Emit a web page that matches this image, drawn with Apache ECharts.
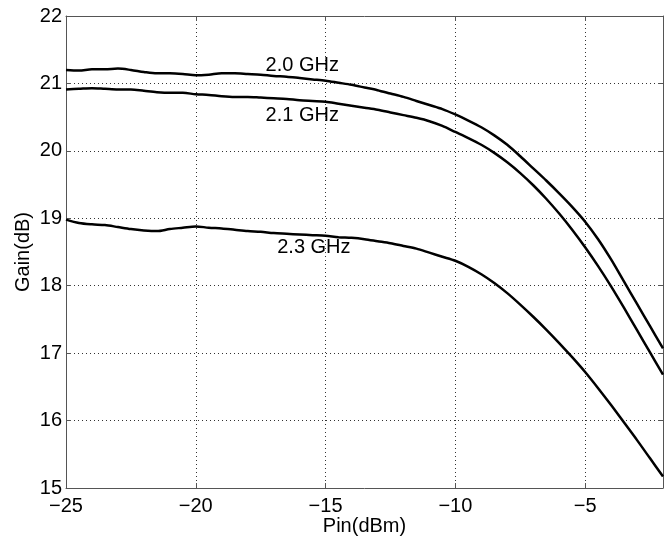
<!DOCTYPE html>
<html>
<head>
<meta charset="utf-8">
<script src="https://cdn.jsdelivr.net/npm/echarts@6/dist/echarts.min.js"></script>
<style>
	html, body {margin: 0; padding: 0; background: #fff;}
	#chart {width: 671px; height: 537px;}
</style>
</head>
<body>
<div id="chart"></div>
<script type="text/javascript">
// input power (dBm)
var pin = [-25, -24.5, -24, -23.5, -23, -22.5, -22, -21.5, -21, -20.5, -20, -19.5, -19, -18.5, -18, -17.5, -17, -16.5, -16, -15.5,
	-15, -14.5, -14, -13.5, -13, -12.5, -12, -11.5, -11, -10.5, -10, -9.5, -9, -8.5, -8, -7.5, -7, -6.5, -6, -5.5,
	-5, -4.5, -4, -3.5, -3, -2.5, -2];
// gain (dB) per frequency
var gain20 = [21.20, 21.19, 21.21, 21.21, 21.22, 21.20, 21.17, 21.15, 21.15, 21.14, 21.12, 21.13, 21.15, 21.15, 21.14, 21.13, 21.11, 21.10, 21.08, 21.06,
	21.04, 21.01, 20.98, 20.94, 20.90, 20.85, 20.80, 20.74, 20.68, 20.62, 20.54, 20.45, 20.35, 20.23, 20.09, 19.92, 19.74, 19.56, 19.37, 19.17,
	18.95, 18.69, 18.39, 18.06, 17.73, 17.40, 17.07];
var gain21 = [20.91, 20.92, 20.93, 20.92, 20.91, 20.91, 20.89, 20.87, 20.86, 20.86, 20.84, 20.83, 20.81, 20.80, 20.80, 20.79, 20.78, 20.77, 20.75, 20.74,
	20.73, 20.70, 20.67, 20.64, 20.61, 20.57, 20.53, 20.49, 20.44, 20.37, 20.28, 20.19, 20.09, 19.97, 19.83, 19.67, 19.49, 19.29, 19.07, 18.83,
	18.57, 18.29, 17.99, 17.67, 17.34, 17.01, 16.68];
var gain23 = [18.98, 18.93, 18.91, 18.90, 18.87, 18.84, 18.82, 18.81, 18.84, 18.86, 18.88, 18.86, 18.85, 18.83, 18.81, 18.80, 18.78, 18.77, 18.76, 18.75,
	18.74, 18.72, 18.71, 18.69, 18.66, 18.63, 18.59, 18.55, 18.49, 18.43, 18.37, 18.28, 18.17, 18.04, 17.89, 17.72, 17.54, 17.35, 17.15, 16.94,
	16.72, 16.48, 16.23, 15.97, 15.71, 15.44, 15.17];

var font = 'Liberation Sans, Arial, Helvetica, sans-serif';

function pairs(ys) {
	return pin.map(function (x, i) { return [x, ys[i]]; });
}

function curve(name, ys, labelAt) {
	return {
		name: name,
		type: 'line',
		data: pairs(ys),
		showSymbol: false,
		smooth: 0.3,
		lineStyle: {color: '#000', width: 2.5},
		markPoint: {
			symbol: 'circle',
			symbolSize: 0,
			silent: true,
			label: {show: true, position: 'inside', color: '#000', fontSize: 20, fontFamily: font, formatter: name},
			data: [{coord: labelAt}]
		}
	};
}

var axisLine = {show: true, lineStyle: {color: '#555', width: 1}};
var tick = {show: true, inside: true, length: 5, lineStyle: {color: '#555'}};
var grid = {show: true, lineStyle: {color: '#333', type: [1, 3], width: 1}};
var minus = function (v) { return String(v).replace('-', '\u2212'); };

var option = {
	animation: false,
	backgroundColor: '#fff',
	grid: {left: 66, top: 16, right: 8, bottom: 49, containLabel: false, outerBoundsMode: 'none'},
	xAxis: [{
		type: 'value', min: -25, max: -2, interval: 5,
		name: 'Pin(dBm)', nameLocation: 'middle', nameGap: 28, nameMoveOverlap: false,
		nameTextStyle: {color: '#000', fontSize: 20, fontFamily: font},
		axisLine: axisLine, axisTick: tick, splitLine: grid,
		axisLabel: {color: '#000', fontSize: 20, fontFamily: font, margin: 8, formatter: minus, showMaxLabel: false}
	}, {
		type: 'value', min: -25, max: -2, interval: 5, position: 'top',
		axisLine: axisLine, axisTick: tick, splitLine: {show: false}, axisLabel: {show: false}
	}],
	yAxis: [{
		type: 'value', min: 15, max: 22, interval: 1,
		name: 'Gain(dB)', nameLocation: 'middle', nameGap: 33, nameMoveOverlap: false,
		nameTextStyle: {color: '#000', fontSize: 20, fontFamily: font},
		axisLine: axisLine, axisTick: tick, splitLine: grid,
		axisLabel: {color: '#000', fontSize: 20, fontFamily: font, margin: 4}
	}, {
		type: 'value', min: 15, max: 22, interval: 1, position: 'right',
		axisLine: axisLine, axisTick: tick, splitLine: {show: false}, axisLabel: {show: false}
	}],
	series: [
		curve('2.0 GHz', gain20, [-15.9, 21.27]),
		curve('2.1 GHz', gain21, [-15.9, 20.53]),
		curve('2.3 GHz', gain23, [-15.45, 18.56])
	]
};

var myChart = echarts.init(document.getElementById('chart'));
myChart.setOption(option);
</script>
</body>
</html>
